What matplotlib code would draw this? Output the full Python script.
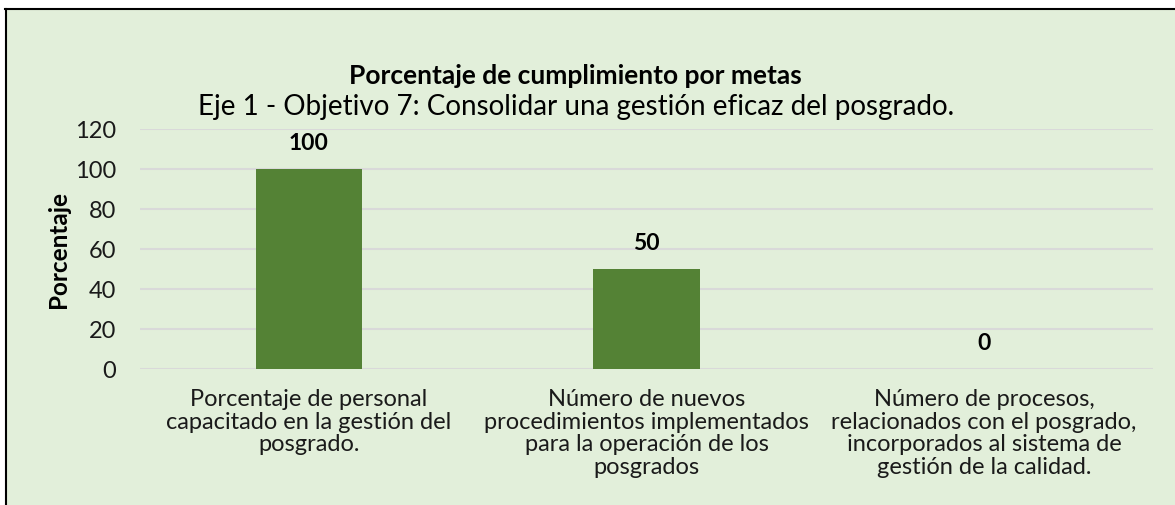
import matplotlib.pyplot as plt
from matplotlib.lines import Line2D

categories = [
    "Porcentaje de personal\ncapacitado en la gestión del\nposgrado.",
    "Número de nuevos\nprocedimientos implementados\npara la operación de los\nposgrados",
    "Número de procesos,\nrelacionados con el posgrado,\nincorporados al sistema de\ngestión de la calidad.",
]
values = [100, 50, 0]
yticks = [0, 20, 40, 60, 80, 100, 120]

bg = '#E2EFDA'
plt.rcParams['font.family'] = ['Lato', 'DejaVu Sans']

fig = plt.figure(figsize=(11.75, 5.06), dpi=100, facecolor=bg)
ax = fig.add_axes([140 / 1175, 1 - 370 / 506, (1153 - 140) / 1175, 240 / 506])
ax.set_facecolor(bg)

x = range(len(categories))
bars = ax.bar(x, values, width=0.314, color='#548235', zorder=3)

ax.set_xlim(-0.5, 2.5)
ax.set_ylim(0, 120)
ax.set_yticks(yticks)
ax.grid(axis='y', color='#D9D9D9', linewidth=1.5, zorder=0)
for s in ax.spines.values():
    s.set_visible(False)
ax.tick_params(axis='both', length=0, labelsize=17, colors='#1a1a1a')
ax.tick_params(axis='y', pad=17)
ax.set_xticks(list(x))
ax.set_xticklabels(categories, fontsize=17, linespacing=1.08)
ax.tick_params(axis='x', pad=14)

for b, v in zip(bars, values):
    ax.annotate(str(v), (b.get_x() + b.get_width() / 2, v), xytext=(0, 19),
                textcoords='offset points', ha='center', va='center',
                fontsize=16.5, fontweight='bold')

ax.set_ylabel('Porcentaje', fontsize=17.5, fontweight='bold', labelpad=4)

fig.text(0.49, 1 - 76 / 506, 'Porcentaje de cumplimiento por metas', ha='center', va='center',
         fontsize=19, fontweight='bold')
fig.text(0.49, 1 - 107 / 506, 'Eje 1 - Objetivo 7: Consolidar una gestión eficaz del posgrado.',
         ha='center', va='center', fontsize=20)

# frame lines (top and left)
fig.add_artist(Line2D([5 / 1175, 1], [1 - 9.5 / 506, 1 - 9.5 / 506], color='black', linewidth=1.5,
                      transform=fig.transFigure))
fig.add_artist(Line2D([5.5 / 1175, 5.5 / 1175], [0, 1 - 9.5 / 506], color='black', linewidth=1.5,
                      transform=fig.transFigure))
fig.patches.append(plt.Rectangle((0, 1 - 9 / 506), 1, 9 / 506, transform=fig.transFigure,
                                 color='white', zorder=-1))
fig.patches.append(plt.Rectangle((0, 0), 5 / 1175, 1, transform=fig.transFigure,
                                 color='white', zorder=-1))

fig.savefig('out.png', dpi=100, facecolor=bg)
